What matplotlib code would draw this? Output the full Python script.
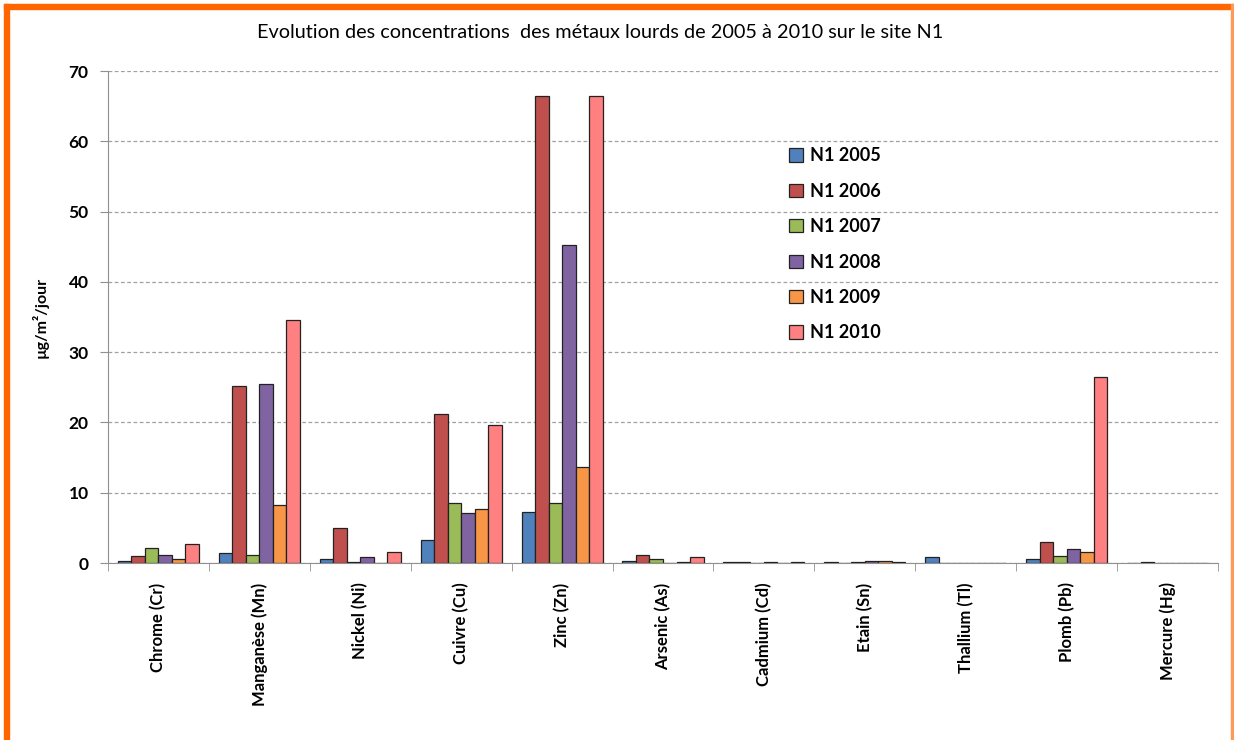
import numpy as np
import matplotlib.pyplot as plt
from matplotlib.patches import Rectangle

plt.rcParams['font.family'] = ['Lato', 'DejaVu Sans']

metaux = ['Chrome (Cr)', 'Manganèse (Mn)', 'Nickel (Ni)', 'Cuivre (Cu)', 'Zinc (Zn)',
          'Arsenic (As)', 'Cadmium (Cd)', 'Etain (Sn)', 'Thallium (Tl)', 'Plomb (Pb)',
          'Mercure (Hg)']
series = ['N1 2005', 'N1 2006', 'N1 2007', 'N1 2008', 'N1 2009', 'N1 2010']

n1_2005 = [0.3, 1.4, 0.6, 3.3, 7.3, 0.35, 0.1, 0.1, 0.9, 0.6, 0.0]
n1_2006 = [1.0, 25.2, 5.0, 21.2, 66.5, 1.15, 0.2, 0.0, 0.0, 3.0, 0.1]
n1_2007 = [2.1, 1.2, 0.15, 8.5, 8.5, 0.5, 0.0, 0.1, 0.0, 1.0, 0.0]
n1_2008 = [1.2, 25.4, 0.85, 7.1, 45.2, 0.0, 0.1, 0.35, 0.0, 2.05, 0.0]
n1_2009 = [0.55, 8.2, 0.0, 7.7, 13.7, 0.1, 0.0, 0.35, 0.0, 1.6, 0.0]
n1_2010 = [2.7, 34.6, 1.6, 19.6, 66.4, 0.9, 0.1, 0.2, 0.0, 26.4, 0.0]
valeurs = [n1_2005, n1_2006, n1_2007, n1_2008, n1_2009, n1_2010]

couleurs = ['#4F81BD', '#C0504D', '#9BBB59', '#8064A2', '#F79646', '#FF8080']

fig = plt.figure(figsize=(12.34, 7.4), dpi=100)
ax = fig.add_axes([108 / 1234, 1 - 563 / 740, 1110 / 1234, 492 / 740])

x = np.arange(len(metaux))
w = 0.134
for i, (vals, c, lab) in enumerate(zip(valeurs, couleurs, series)):
    ax.bar(x + (i - 2.5) * w, vals, w, color=c, edgecolor='#222222',
           linewidth=0.9, label=lab, zorder=3)

ax.set_xlim(-0.5, len(metaux) - 0.5)
ax.set_ylim(0, 70)
ax.set_yticks(range(0, 71, 10))
ax.yaxis.grid(True, linestyle=(0, (3, 2)), color='#A0A0A0', linewidth=0.9)
ax.set_axisbelow(True)

ax.set_xticks(x)
ax.set_xticklabels(metaux, rotation=90, fontsize=12, fontweight='bold')
ax.set_xticks(np.arange(-0.5, len(metaux), 1), minor=True)
ax.tick_params(axis='x', which='major', length=0, pad=14)
ax.tick_params(axis='x', which='minor', length=6, color='#909090')
ax.tick_params(axis='y', length=6, color='#909090', labelsize=12.5, pad=8)
for t in ax.get_yticklabels():
    t.set_fontweight('bold')

for s in ['top', 'right']:
    ax.spines[s].set_visible(False)
for s in ['left', 'bottom']:
    ax.spines[s].set_color('#909090')

ax.set_ylabel('µg/m²/jour', fontsize=11.5, fontweight='bold', labelpad=14)

fig.text(600 / 1234, 1 - 32 / 740, 'Evolution des concentrations  des métaux lourds de 2005 à 2010 sur le site N1',
         ha='center', va='center', fontsize=14.3)

leg = ax.legend(loc='upper left', bbox_to_anchor=(665 / 1110, (563 - 131) / 492),
                frameon=False, prop={'size': 13, 'weight': 'bold'},
                handlelength=0.75, handleheight=0.75, handletextpad=0.4,
                labelspacing=1.02)

# cadre orange
fig.patches.append(Rectangle((4 / 1234, 1 - 9 / 740), 1 - 4 / 1234, 5 / 740,
                             transform=fig.transFigure, color='#FF6600'))
fig.patches.append(Rectangle((4 / 1234, 0), 5 / 1234, 1 - 4 / 740,
                             transform=fig.transFigure, color='#FF6600'))
fig.patches.append(Rectangle((1231 / 1234, 0), 2 / 1234, 1 - 4 / 740,
                             transform=fig.transFigure, color='#FF9955'))

fig.savefig('out.png', dpi=100)
